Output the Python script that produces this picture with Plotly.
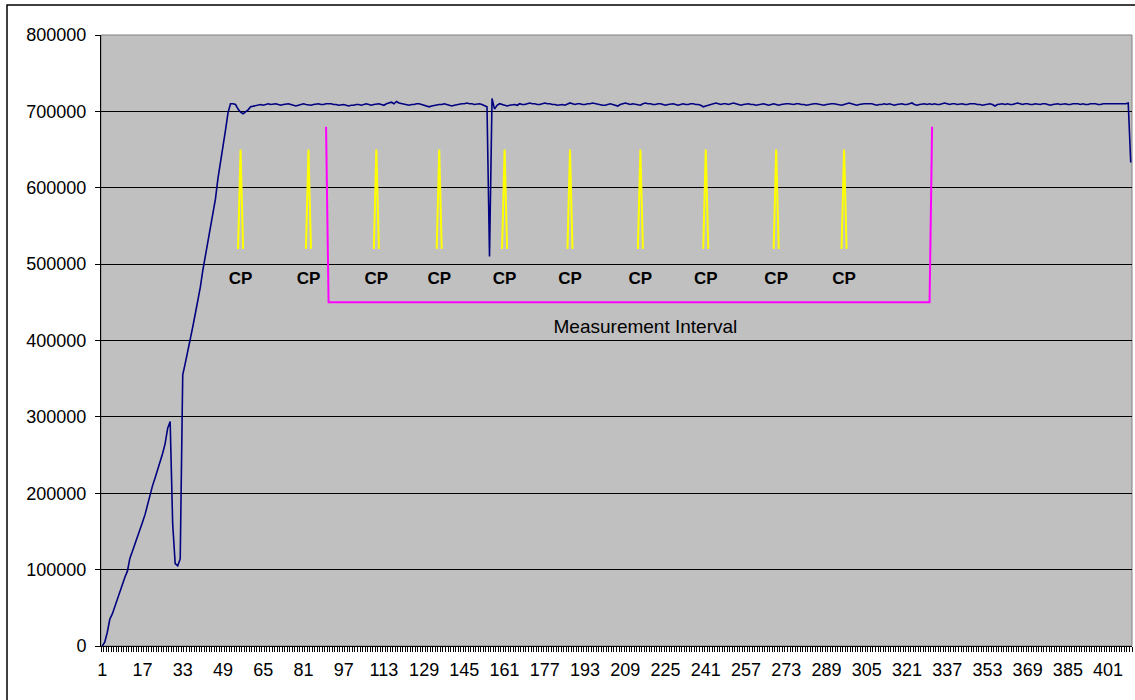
import plotly.graph_objects as go

# ---------------- data ----------------
categories = list(range(1, 411))

throughput = [
    0, 5000, 18000, 35000, 42000, 52000, 62000, 72000, 82000, 90000,
    98000, 115000, 124000, 133000, 144000, 153000, 162000, 172000, 185000, 200000,
    210000, 220000, 230000, 240000, 252000, 265000, 285000, 294000, 160000, 108000,
    105000, 114000, 355000, 370000, 385000, 400000, 418000, 435000, 452000, 470000,
    492000, 510000, 527000, 545000, 565000, 585000, 612000, 632000, 652000, 675000,
    698000, 710000, 710000, 709000, 703000, 699000, 697000, 699000, 702000, 706000,
    707000, 708000, 708000, 709000, 708000, 709000, 710000, 709000, 710000, 710000,
    709000, 708000, 709000, 710000, 710000, 709000, 708000, 707000, 708000, 709000,
    710000, 709000, 708000, 708000, 709000, 710000, 710000, 709000, 709000, 710000,
    710000, 710000, 709000, 709000, 708000, 709000, 709000, 708000, 707000, 708000,
    708000, 709000, 709000, 708000, 709000, 710000, 709000, 708000, 709000, 710000,
    710000, 709000, 708000, 710000, 711000, 712000, 710000, 713000, 711000, 710000,
    710000, 709000, 708000, 709000, 709000, 710000, 710000, 709000, 708000, 707000,
    706000, 707000, 708000, 709000, 709000, 709000, 710000, 709000, 708000, 707000,
    708000, 709000, 710000, 710000, 710000, 711000, 710000, 710000, 709000, 710000,
    710000, 709000, 708000, 706000, 510000, 717000, 703000, 708000, 710000, 709000,
    708000, 707000, 708000, 709000, 709000, 708000, 710000, 709000, 709000, 710000,
    711000, 710000, 710000, 709000, 709000, 710000, 711000, 710000, 710000, 709000,
    709000, 708000, 709000, 709000, 708000, 710000, 711000, 710000, 709000, 710000,
    710000, 709000, 709000, 710000, 710000, 711000, 710000, 709000, 709000, 708000,
    708000, 709000, 710000, 709000, 708000, 707000, 709000, 710000, 711000, 710000,
    709000, 710000, 709000, 709000, 708000, 710000, 711000, 710000, 710000, 709000,
    709000, 710000, 710000, 709000, 708000, 709000, 710000, 710000, 709000, 708000,
    709000, 710000, 709000, 709000, 710000, 710000, 709000, 709000, 708000, 706000,
    707000, 708000, 709000, 710000, 711000, 710000, 709000, 710000, 710000, 709000,
    710000, 711000, 710000, 709000, 708000, 709000, 710000, 710000, 709000, 709000,
    708000, 709000, 710000, 710000, 709000, 708000, 709000, 710000, 709000, 708000,
    709000, 710000, 710000, 710000, 709000, 709000, 710000, 710000, 709000, 709000,
    708000, 709000, 709000, 710000, 710000, 709000, 708000, 708000, 709000, 710000,
    710000, 710000, 709000, 709000, 708000, 709000, 710000, 711000, 710000, 709000,
    708000, 709000, 710000, 710000, 710000, 710000, 710000, 709000, 708000, 709000,
    709000, 710000, 709000, 710000, 709000, 708000, 709000, 710000, 710000, 709000,
    709000, 710000, 711000, 709000, 708000, 709000, 710000, 710000, 709000, 710000,
    709000, 710000, 709000, 709000, 710000, 711000, 710000, 709000, 710000, 710000,
    709000, 710000, 710000, 709000, 709000, 710000, 710000, 710000, 709000, 709000,
    708000, 709000, 710000, 710000, 709000, 707000, 709000, 710000, 710000, 709000,
    710000, 709000, 709000, 710000, 711000, 710000, 709000, 710000, 710000, 709000,
    709000, 710000, 709000, 709000, 710000, 710000, 709000, 708000, 709000, 710000,
    710000, 709000, 710000, 710000, 709000, 709000, 710000, 710000, 710000, 709000,
    710000, 709000, 709000, 710000, 710000, 710000, 709000, 709000, 710000, 710000,
    710000, 710000, 710000, 710000, 710000, 710000, 710000, 710000, 711000, 633000,
]

# checkpoint spikes (category of the peak) and spike levels
checkpoint_cats = [56, 83, 110, 135, 161, 187, 215, 241, 269, 296]
spike_low = 520000
spike_high = 650000

# measurement interval bracket
interval_cats = [90, 91, 330, 331]
interval_vals = [680000, 450000, 450000, 680000]
interval_label = "Measurement Interval"
interval_label_cat = 217
interval_label_val = 416000
cp_label_val = 480000

x_tick_labels = list(range(1, 402, 16))
y_ticks = list(range(0, 800001, 100000))

# ---------------- figure ----------------
FONT = "Liberation Sans, Arial, sans-serif"
fig = go.Figure()

fig.add_trace(go.Scatter(
    x=categories, y=throughput, mode="lines",
    line=dict(color="#000080", width=1.6), hoverinfo="skip", showlegend=False))

sx, sy = [], []
for c in checkpoint_cats:
    sx += [c - 1, c, c + 1, None]
    sy += [spike_low, spike_high, spike_low, None]
fig.add_trace(go.Scatter(
    x=sx, y=sy, mode="lines", connectgaps=False,
    line=dict(color="#FFFF00", width=2), hoverinfo="skip", showlegend=False))

fig.add_trace(go.Scatter(
    x=interval_cats, y=interval_vals, mode="lines",
    line=dict(color="#FF00FF", width=2), hoverinfo="skip", showlegend=False))

fig.add_trace(go.Scatter(
    x=checkpoint_cats, y=[cp_label_val] * len(checkpoint_cats), mode="text",
    text=["<b>CP</b>"] * len(checkpoint_cats),
    textfont=dict(family=FONT, size=17, color="black"),
    textposition="middle center", hoverinfo="skip", showlegend=False))

fig.add_trace(go.Scatter(
    x=[interval_label_cat], y=[interval_label_val], mode="text",
    text=[interval_label], textfont=dict(family=FONT, size=19, color="black"),
    textposition="middle center", hoverinfo="skip", showlegend=False))

W, H = 1135, 700
L, R, T, B = 101, 3, 35, 54
pw, ph = W - L - R, H - T - B

fig.update_layout(
    width=W, height=H,
    margin=dict(l=L, r=R, t=T, b=B, pad=0),
    paper_bgcolor="white", plot_bgcolor="#C0C0C0",
    font=dict(family=FONT, size=18, color="black"),
    showlegend=False,
    xaxis=dict(
        range=[0.5, len(categories) + 0.5], tickmode="array",
        tickvals=x_tick_labels, ticktext=[str(v) for v in x_tick_labels],
        tickangle=0, ticks="", showgrid=False, zeroline=False,
        showline=True, linecolor="black", linewidth=1,
        ticklabelstandoff=7,
        tickfont=dict(family=FONT, size=18, color="black"),
        minor=dict(ticks="outside", ticklen=5, tickcolor="black", tickwidth=1,
                   tickmode="linear", tick0=0.5, dtick=1, showgrid=False),
    ),
    yaxis=dict(
        range=[0, 800000], tickmode="array", tickvals=y_ticks,
        ticktext=[str(v) for v in y_ticks],
        ticks="outside", ticklen=5, tickcolor="black",
        showgrid=True, gridcolor="black", gridwidth=1, zeroline=False,
        showline=True, linecolor="black", linewidth=1,
        ticklabelstandoff=5,
        tickfont=dict(family=FONT, size=18, color="black"),
    ),
    shapes=[
        dict(type="rect", xref="paper", yref="paper", x0=0, x1=1, y0=0, y1=1,
             line=dict(color="#808080", width=1), layer="below"),
        dict(type="rect", xref="paper", yref="paper",
             x0=(7 - L) / pw, x1=(W + 10 - L) / pw,
             y0=(H - B - (H + 10)) / ph, y1=(H - B - 5) / ph,
             line=dict(color="black", width=1.5), layer="above"),
    ],
)

fig.write_html(
    "out.html",
    config={"displayModeBar": False, "staticPlot": True},
    post_script="document.body.style.margin='0';document.body.style.overflow='hidden';",
)
